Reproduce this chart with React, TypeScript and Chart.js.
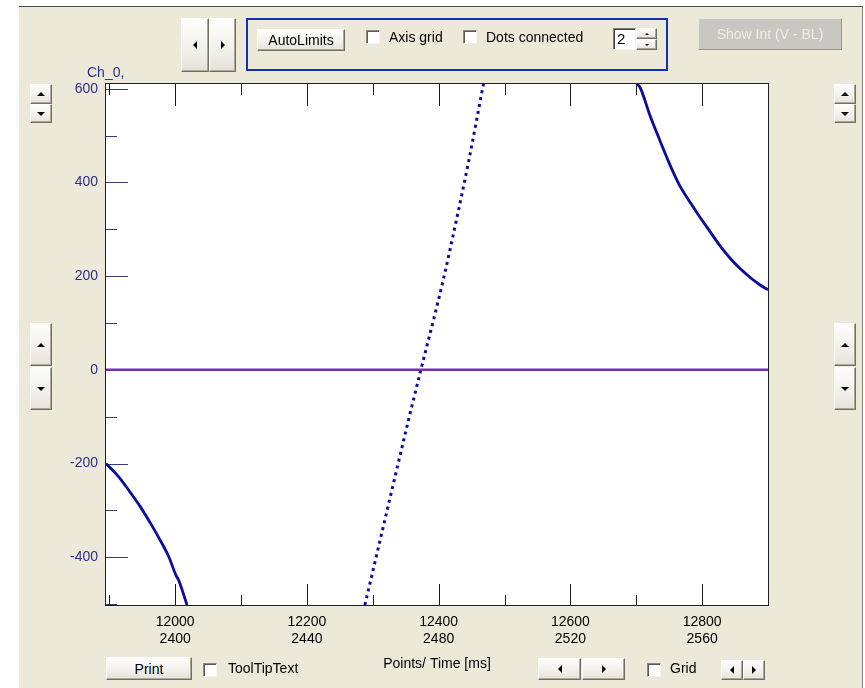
import React, { useEffect, useRef } from 'react';
import { Chart, registerables } from 'chart.js';

Chart.register(...registerables);

// ---- data ----
const X_MIN = 11895;
const X_MAX = 12900;
const Y_MIN = -502;
const Y_MAX = 610;
const POINTS_PER_MS = 5;

const xMajorTicks = [12000, 12200, 12400, 12600, 12800];
const xMinorTicks = [11900, 12100, 12300, 12500, 12700, 12900];
const yMajorTicks = [-400, -200, 0, 200, 400, 600];
const yMinorTicks = [-500, -300, -100, 100, 300, 500];

const seg1X = [11895, 11914, 11931, 11947, 11964, 11977, 11990, 12002, 12005, 12018];
const seg1Y = [-200, -228, -260, -292, -331, -363, -398, -441, -448, -502];

const seg2X = [12288, 12355, 12373, 12393, 12407, 12427, 12446, 12468];
const seg2Y = [-502, -103, 0, 111, 192, 320, 448, 610];

const seg3X = [12701, 12706, 12721, 12736, 12751, 12766, 12782, 12797, 12812, 12827, 12847, 12868, 12888, 12900];
const seg3Y = [610, 602, 542, 489, 438, 393, 357, 325, 295, 265, 231, 203, 181, 171];

const baseX = [X_MIN, X_MAX];
const baseY = [0, 0];

const channelName = 'Ch_0,';
const xTitle = 'Points/ Time [ms]';

const FONT = '"Liberation Sans", Arial, sans-serif';
const DOT = '#0c0c9c';

const toXY = (xs: number[], ys: number[]) => xs.map((x, i) => ({ x, y: ys[i] }));
const tickList = (a: number[], b: number[]) => [...a, ...b].sort((p, q) => p - q).map((value) => ({ value }));

const decor = {
  id: 'decor',
  beforeDraw(chart: any) {
    const { ctx, chartArea: a } = chart;
    ctx.save();
    ctx.fillStyle = '#ffffff';
    ctx.fillRect(a.left, a.top, a.right - a.left, a.bottom - a.top);
    ctx.restore();
  },
  beforeDatasetsDraw(chart: any) {
    const { ctx, chartArea: a, scales } = chart;
    const xs = scales.x;
    const ys = scales.y;
    ctx.save();
    ctx.lineWidth = 1;
    ctx.strokeStyle = '#3c3c78';
    for (const t of ys.ticks) {
      const v = t.value;
      const py = Math.round(ys.getPixelForValue(v)) + 0.5;
      const len = yMajorTicks.includes(v) ? 22 : 11;
      ctx.beginPath();
      ctx.moveTo(a.left, py);
      ctx.lineTo(a.left + len, py);
      ctx.stroke();
    }
    ctx.strokeStyle = '#1a1a1a';
    for (const t of xs.ticks) {
      const v = t.value;
      const px = Math.round(xs.getPixelForValue(v)) + 0.5;
      const major = xMajorTicks.includes(v);
      ctx.beginPath();
      ctx.moveTo(px, a.bottom);
      ctx.lineTo(px, a.bottom - (major ? 21 : 10));
      ctx.moveTo(px, a.top);
      ctx.lineTo(px, a.top + (major ? 22 : 11));
      ctx.stroke();
    }
    ctx.restore();
  },
  afterDatasetsDraw(chart: any) {
    const { ctx, chartArea: a } = chart;
    ctx.save();
    ctx.strokeStyle = '#202020';
    ctx.lineWidth = 1;
    ctx.strokeRect(Math.round(a.left) - 0.5, Math.round(a.top) - 0.5, Math.round(a.right - a.left) + 1, Math.round(a.bottom - a.top) + 1);
    ctx.restore();
  },
};

const boxBase: React.CSSProperties = {
  position: 'absolute',
  boxSizing: 'border-box',
};

function Btn(props: { l: number; t: number; w: number; h: number; children?: any; disabled?: boolean }) {
  const { l, t, w, h, children, disabled } = props;
  return (
    <div
      style={{
        ...boxBase,
        left: l,
        top: t,
        width: w,
        height: h,
        background: disabled ? '#c9c8c0' : 'linear-gradient(#fdfdfb, #f1f0ea 60%, #e4e2d8)',
        borderStyle: 'solid',
        borderWidth: 1,
        borderColor: disabled ? '#e6e5de #9a988d #9a988d #e6e5de' : '#ffffff #716f64 #716f64 #ffffff',
        boxShadow: disabled ? 'none' : 'inset -1px -1px 0 #aca899',
        display: 'flex',
        alignItems: 'center',
        justifyContent: 'center',
        fontFamily: FONT,
        fontSize: 14,
        color: disabled ? '#ececec' : '#000',
        whiteSpace: 'nowrap',
      }}
    >
      {children}
    </div>
  );
}

function Tri(props: { dir: 'l' | 'r' | 'u' | 'd'; s?: number }) {
  const s = props.s ?? 4;
  const c = '#000';
  let st: React.CSSProperties = { width: 0, height: 0 };
  if (props.dir === 'l') st = { ...st, borderTop: `${s}px solid transparent`, borderBottom: `${s}px solid transparent`, borderRight: `${s}px solid ${c}` };
  if (props.dir === 'r') st = { ...st, borderTop: `${s}px solid transparent`, borderBottom: `${s}px solid transparent`, borderLeft: `${s}px solid ${c}` };
  if (props.dir === 'u') st = { ...st, borderLeft: `${s}px solid transparent`, borderRight: `${s}px solid transparent`, borderBottom: `${s}px solid ${c}` };
  if (props.dir === 'd') st = { ...st, borderLeft: `${s}px solid transparent`, borderRight: `${s}px solid transparent`, borderTop: `${s}px solid ${c}` };
  return <div style={st} />;
}

function Check(props: { l: number; t: number }) {
  return (
    <div
      style={{
        ...boxBase,
        left: props.l,
        top: props.t,
        width: 14,
        height: 14,
        background: '#fff',
        borderStyle: 'solid',
        borderWidth: 1,
        borderColor: '#8c8a80 #f4f3ee #f4f3ee #8c8a80',
        boxShadow: 'inset 1px 1px 0 #5a5a5a',
      }}
    />
  );
}

function Label(props: { l: number; t: number; children: any; color?: string }) {
  return (
    <div
      style={{
        position: 'absolute',
        left: props.l,
        top: props.t,
        fontFamily: FONT,
        fontSize: 14,
        lineHeight: '16px',
        color: props.color ?? '#000',
        whiteSpace: 'nowrap',
      }}
    >
      {props.children}
    </div>
  );
}

export default function App() {
  const ref = useRef<HTMLCanvasElement | null>(null);

  useEffect(() => {
    if (!ref.current) return;
    const chart = new Chart(ref.current, {
      type: 'scatter',
      data: {
        datasets: [
          {
            label: 'baseline',
            data: toXY(baseX, baseY),
            showLine: true,
            borderColor: '#7a2cb4',
            borderWidth: 2.5,
            pointRadius: 0,
          },
          {
            label: 'seg1',
            data: toXY(seg1X, seg1Y),
            showLine: true,
            borderColor: DOT,
            borderWidth: 2.8,
            pointRadius: 0,
            cubicInterpolationMode: 'monotone',
          },
          {
            label: 'seg2',
            data: toXY(seg2X, seg2Y),
            showLine: true,
            borderColor: DOT,
            borderWidth: 3,
            borderDash: [3, 4],
            pointRadius: 0,
            cubicInterpolationMode: 'monotone',
          },
          {
            label: 'seg3',
            data: toXY(seg3X, seg3Y),
            showLine: true,
            borderColor: DOT,
            borderWidth: 2.8,
            pointRadius: 0,
            cubicInterpolationMode: 'monotone',
          },
        ],
      },
      options: {
        animation: false,
        responsive: false,
        devicePixelRatio: 1,
        layout: { padding: { left: 0, top: 84, right: 97, bottom: 15 } },
        plugins: { legend: { display: false }, tooltip: { enabled: false } },
        scales: {
          x: {
            type: 'linear',
            position: 'bottom',
            min: X_MIN,
            max: X_MAX,
            grid: { display: false, drawTicks: false },
            border: { display: false },
            afterBuildTicks: (s: any) => {
              s.ticks = tickList(xMajorTicks, xMinorTicks);
            },
            ticks: {
              autoSkip: false,
              maxRotation: 0,
              padding: 9,
              color: '#000',
              font: { family: FONT, size: 14, lineHeight: 1.2 },
              callback: (v: any) => (xMajorTicks.includes(Number(v)) ? [String(v), String(Number(v) / POINTS_PER_MS)] : ''),
            },
            title: {
              display: true,
              text: xTitle,
              color: '#000',
              font: { family: FONT, size: 14, lineHeight: 1.2 },
              padding: 0,
            },
            afterFit: (s: any) => {
              s.height = 68;
            },
          },
          y: {
            type: 'linear',
            position: 'left',
            min: Y_MIN,
            max: Y_MAX,
            grid: { display: false, drawTicks: false },
            border: { display: false },
            afterBuildTicks: (s: any) => {
              s.ticks = tickList(yMajorTicks, yMinorTicks);
            },
            ticks: {
              autoSkip: false,
              padding: 8,
              color: '#2e2e8c',
              font: { family: FONT, size: 14 },
              callback: (v: any) => (yMajorTicks.includes(Number(v)) ? String(v) : ''),
            },
            afterFit: (s: any) => {
              s.width = 106;
            },
          },
        },
      },
      plugins: [decor],
    } as any);
    return () => chart.destroy();
  }, []);

  return (
    <div style={{ position: 'absolute', left: 0, top: 0, width: 865, height: 688, overflow: 'hidden', background: '#fff' }}>
      <div
        style={{
          ...boxBase,
          left: 19,
          top: 6,
          width: 844,
          height: 682,
          background: '#ece9d8',
          borderTop: '1px solid #4a4a4a',
          borderRight: '1px solid #8a887e',
        }}
      />
      <canvas ref={ref} width={865} height={688} style={{ position: 'absolute', left: 0, top: 0, width: 865, height: 688 }} />

      {/* top toolbar */}
      <Btn l={181} t={18} w={28} h={54}><Tri dir="l" /></Btn>
      <Btn l={209} t={18} w={27} h={54}><Tri dir="r" /></Btn>
      <div style={{ ...boxBase, left: 246, top: 18, width: 422, height: 53, border: '2px solid #1530b0' }} />
      <Btn l={257} t={29} w={88} h={22}>AutoLimits</Btn>
      <Check l={366} t={30} />
      <Label l={389} t={29}>Axis grid</Label>
      <Check l={463} t={30} />
      <Label l={486} t={29}>Dots connected</Label>
      <div
        style={{
          ...boxBase,
          left: 613,
          top: 28,
          width: 23,
          height: 22,
          background: '#fff',
          borderStyle: 'solid',
          borderWidth: 1,
          borderColor: '#7f7d72 #f4f3ee #f4f3ee #7f7d72',
          boxShadow: 'inset 1px 1px 0 #404040',
          fontFamily: FONT,
          fontSize: 15,
          lineHeight: '19px',
          paddingLeft: 3,
        }}
      >
        2
      </div>
      <Btn l={636} t={28} w={21} h={11}><Tri dir="u" s={2} /></Btn>
      <Btn l={636} t={39} w={21} h={11}><Tri dir="d" s={2} /></Btn>
      <Btn l={698} t={18} w={144} h={32} disabled>Show Int (V - BL)</Btn>

      <Label l={87} t={64} color="#2e2e8c">{channelName}</Label>

      {/* side buttons */}
      <Btn l={30} t={84} w={22} h={20}><Tri dir="u" /></Btn>
      <Btn l={30} t={104} w={22} h={19}><Tri dir="d" /></Btn>
      <Btn l={834} t={84} w={22} h={20}><Tri dir="u" /></Btn>
      <Btn l={834} t={104} w={22} h={19}><Tri dir="d" /></Btn>
      <Btn l={30} t={323} w={22} h={43}><Tri dir="u" /></Btn>
      <Btn l={30} t={367} w={22} h={43}><Tri dir="d" /></Btn>
      <Btn l={834} t={323} w={22} h={43}><Tri dir="u" /></Btn>
      <Btn l={834} t={367} w={22} h={43}><Tri dir="d" /></Btn>

      {/* bottom row */}
      <Btn l={106} t={657} w={86} h={23}>Print</Btn>
      <Check l={203} t={663} />
      <Label l={228} t={660}>ToolTipText</Label>
      <Btn l={538} t={658} w={43} h={22}><Tri dir="l" /></Btn>
      <Btn l={582} t={658} w={43} h={22}><Tri dir="r" /></Btn>
      <Check l={647} t={663} />
      <Label l={670} t={660}>Grid</Label>
      <Btn l={721} t={660} w={22} h={20}><Tri dir="l" /></Btn>
      <Btn l={743} t={660} w={22} h={20}><Tri dir="r" /></Btn>
    </div>
  );
}
